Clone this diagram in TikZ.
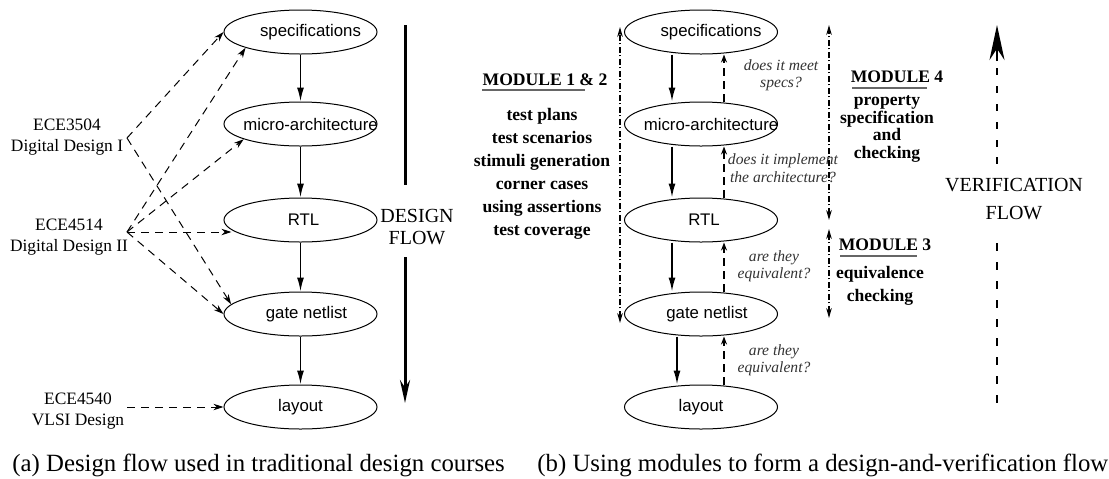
\documentclass[tikz,border=0pt]{standalone}
\usepackage{fontspec}
\setmainfont{Liberation Serif}
\setsansfont{Liberation Sans}
\usetikzlibrary{shapes.geometric,arrows.meta,calc}
\tikzset{
  stagebox/.style={ellipse, draw, line width=0.5pt, minimum width=76.5pt, minimum height=22pt, inner sep=0pt},
  stagelabel/.style={font=\sffamily\fontsize{8.4}{10}\selectfont, inner sep=0pt},
  downarrow/.style={-{Latex[length=7pt,width=3.5pt]}, line width=0.8pt},
  coursearrow/.style={dash pattern=on 4pt off 3pt, line width=0.5pt, -{Stealth[length=5pt,width=3.2pt]}},
  coursename/.style={font=\fontsize{8.7}{10.5}\selectfont, align=center, inner sep=0pt},
  checkarrow/.style={dash pattern=on 4pt off 2.5pt, line width=1pt, -{Stealth[length=4pt,width=3pt]}},
  spanarrow/.style={dash pattern=on 3pt off 1.2pt on 0.6pt off 1.2pt, line width=0.6pt, {Stealth[length=5pt,width=2.8pt]}-{Stealth[length=5pt,width=2.8pt]}},
  questiontext/.style={font=\itshape\fontsize{7.8}{8.5}\selectfont, align=center, text=black!80, inner sep=0pt},
  moduletitle/.style={font=\bfseries\fontsize{8.8}{10}\selectfont, inner sep=0pt},
  moduleitems/.style={font=\bfseries\fontsize{8.8}{11.5}\selectfont, align=center, inner sep=0pt},
  moduleline/.style={line width=0.8pt, black!60},
  flowtitle/.style={font=\fontsize{10}{11}\selectfont, align=center, inner sep=0pt},
  captiontext/.style={font=\fontsize{12.4}{14}\selectfont, anchor=base west, inner sep=0pt},
  bigarrow/.style={line width=1.5pt},
  verifydash/.style={line width=1.3pt, line cap=butt},
}
\begin{document}
\begin{tikzpicture}[x=0.5pt,y=-0.5pt]
\useasboundingbox (0,0) rectangle (1109,478);

% ---------- (a) ----------
\node[stagebox] (aspec)   at (300.5,32)  {};
\node[stagebox] (amicro)  at (300.5,124) {};
\node[stagebox] (artl)    at (300.5,220) {};
\node[stagebox] (agate)   at (300.5,314) {};
\node[stagebox] (alayout) at (300.5,407) {};
\node[stagelabel] (aspect)   at ([xshift=5pt]aspec.center)   {specifications};
\node[stagelabel] (amicrot)  at ([xshift=5pt]amicro.center)  {micro-architecture};
\node[stagelabel] (artlt)    at ([xshift=1.5pt]artl.center)  {RTL};
\node[stagelabel] (agatet)   at ([xshift=3pt]agate.center)   {gate netlist};
\node[stagelabel] (alayoutt) at (alayout.center)             {layout};

\draw[downarrow] (aspec) -- (amicro);
\draw[downarrow] (amicro) -- (artl);
\draw[downarrow] (artl) -- (agate);
\draw[downarrow] (agate) -- (alayout);

\node[coursename] (ece3504) at (67,137) {ECE3504\\Digital Design I};
\node[coursename] (ece4514) at (69,237) {ECE4514\\Digital Design II};
\node[coursename] (ece4540) at (78,411) {ECE4540\\VLSI Design};
\coordinate (p1) at (127,138);
\coordinate (p2) at (127,232);
\coordinate (p3) at (127,407);

\draw[coursearrow] (p1) -- (aspec.west);
\draw[coursearrow] (p1) -- (agate.172);
\draw[coursearrow] (p2) -- (aspec.196);
\draw[coursearrow] (p2) -- (amicro.195);
\draw[coursearrow] (p2) -- ([xshift=4pt]p2 -| artl.west);
\draw[coursearrow] (p2) -- (agate.west);
\draw[coursearrow] (p3) -- (alayout.west);

\node[flowtitle] (dflow) at (417,227) {DESIGN\\FLOW};
\coordinate (d1) at (405,25);
\coordinate (d2) at (405,185);
\coordinate (d3) at (405,257);
\coordinate (d4) at (405,403);
\draw[bigarrow] (d1) -- (d2);
\draw[bigarrow,-{Stealth[length=11.5pt,width=5pt]}] (d3) -- (d4);

\node[captiontext] (capa) at (12,471) {(a) Design flow used in traditional design courses};

% ---------- (b) ----------
\node[stagebox] (bspec)   at (701,32)  {};
\node[stagebox] (bmicro)  at (701,124) {};
\node[stagebox] (brtl)    at (701,220) {};
\node[stagebox] (bgate)   at (701,314) {};
\node[stagebox] (blayout) at (701,407) {};
\node[stagelabel] (bspect)   at ([xshift=5pt]bspec.center)   {specifications};
\node[stagelabel] (bmicrot)  at ([xshift=5pt]bmicro.center)  {micro-architecture};
\node[stagelabel] (brtlt)    at ([xshift=1.5pt]brtl.center)  {RTL};
\node[stagelabel] (bgatet)   at ([xshift=3pt]bgate.center)   {gate netlist};
\node[stagelabel] (blayoutt) at (blayout.center)             {layout};

\draw[downarrow] ([xshift=-14.5pt]bspec.south)  -- ([xshift=-14.5pt]bmicro.north);
\draw[downarrow] ([xshift=-14.5pt]bmicro.south) -- ([xshift=-14.5pt]brtl.north);
\draw[downarrow] ([xshift=-14.5pt]brtl.south)   -- ([xshift=-14.5pt]bgate.north);
\draw[downarrow] ([xshift=-12pt]bgate.south)    -- ([xshift=-12pt]blayout.north);

\draw[checkarrow] ([xshift=11.5pt]bmicro.north)  -- ([xshift=11.5pt]bspec.south);
\draw[checkarrow] ([xshift=11.5pt]brtl.north)    -- ([xshift=11.5pt]bmicro.south);
\draw[checkarrow] ([xshift=11.5pt]bgate.north)   -- ([xshift=11.5pt]brtl.south);
\draw[checkarrow] ([xshift=11.5pt]blayout.north) -- ([xshift=11.5pt]bgate.south);

\node[questiontext] (q1) at (781,75)  {does it meet\\specs?};
\node[questiontext, font=\itshape\fontsize{7.8}{9}\selectfont] (q2) at (783,168) {does it implement\\the architecture?};
\node[questiontext] (q3) at (774,266) {are they\\equivalent?};
\node[questiontext] (q4) at (774,360) {are they\\equivalent?};

% module 1 & 2
\coordinate (m12top) at (620,27);
\coordinate (m12bot) at (620,323);
\draw[spanarrow] (m12bot) -- (m12top);
\node[moduletitle] (m12) at (545,80) {MODULE 1 \& 2};
\draw[moduleline] (482,90) -- (585,90);
\node[moduleitems] (m12items) at (542,174) {test plans\\test scenarios\\stimuli generation\\corner cases\\using assertions\\test coverage};

% module 4
\coordinate (m4top) at (829,25);
\coordinate (m4bot) at (829,220);
\draw[spanarrow] (m4bot) -- (m4top);
\node[moduletitle] (m4) at (897,77) {MODULE 4};
\draw[moduleline] (852,88) -- (927,88);
\node[moduleitems, font=\bfseries\fontsize{8.8}{8.8}\selectfont] (m4items) at (887,129) {property\\specification\\and\\checking};

% module 3
\coordinate (m3top) at (829,229);
\coordinate (m3bot) at (829,318);
\draw[spanarrow] (m3bot) -- (m3top);
\node[moduletitle] (m3) at (885,245) {MODULE 3};
\draw[moduleline] (840,256) -- (917,256);
\node[moduleitems] (m3items) at (880,286) {equivalence\\checking};

% verification flow
\node[flowtitle, font=\fontsize{10}{14}\selectfont] (vflow) at (1014,199) {VERIFICATION\\FLOW};
\coordinate (vtip) at (997,25);
\coordinate (vhead) at (997,61);
\foreach \y in {243,262,281,300,319,338,357,376,395}
  \draw[verifydash] (997,\y) -- (997,\y+8);
\foreach \y in {68,86,104,122,140,157}
  \draw[verifydash] (997,\y) -- (997,\y+7);
\draw[verifydash,-{Stealth[length=17.5pt,width=7.5pt]}] (vhead) -- (vtip);

\node[captiontext] (capb) at (537,471) {(b) Using modules to form a design-and-verification flow};
\end{tikzpicture}
\end{document}
